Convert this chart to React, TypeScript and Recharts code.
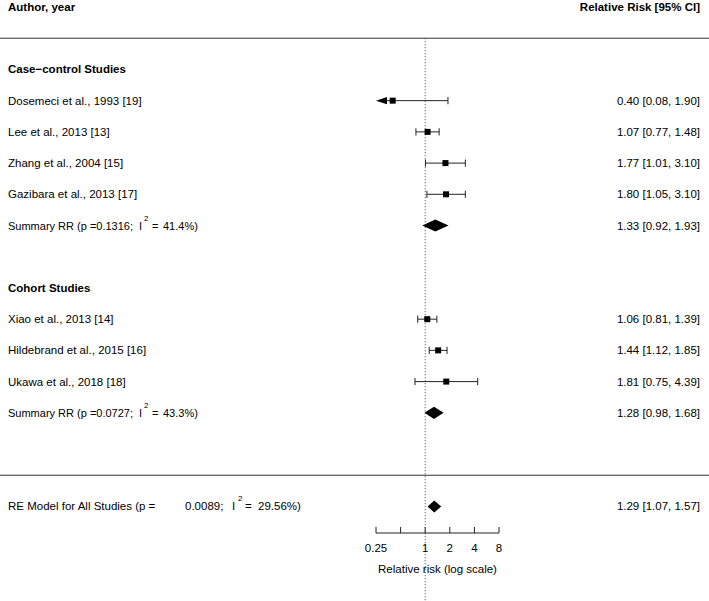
import { ComposedChart, Scatter, XAxis, YAxis, ReferenceArea, ReferenceLine } from 'recharts'

const headerLeft = 'Author, year'
const headerRight = 'Relative Risk [95% CI]'
const headerRow = 0

const groupNames = ['Case−control Studies', 'Cohort Studies']
const groupRows = [2, 9]

const studyNames = [
	'Dosemeci et al., 1993 [19]',
	'Lee et al., 2013 [13]',
	'Zhang et al., 2004 [15]',
	'Gazibara et al., 2013 [17]',
	'Xiao et al., 2013 [14]',
	'Hildebrand et al., 2015 [16]',
	'Ukawa et al., 2018 [18]',
]
const studyRR = [0.4, 1.07, 1.77, 1.8, 1.06, 1.44, 1.81]
const studyLower = [0.08, 0.77, 1.01, 1.05, 0.81, 1.12, 0.75]
const studyUpper = [1.9, 1.48, 3.1, 3.1, 1.39, 1.85, 4.39]
const studyRows = [3, 4, 5, 6, 10, 11, 12]

const summaryPValues = ['0.1316', '0.0727', '0.0089']
const summaryI2 = ['41.4%', '43.3%', '29.56%']
const summaryRR = [1.33, 1.28, 1.29]
const summaryLower = [0.92, 0.98, 1.07]
const summaryUpper = [1.93, 1.68, 1.57]
const summaryRows = [7, 13, 16]

const dividerRows = [1, 15]
const axisTicks = [0.25, 0.5, 1, 2, 4, 8]
const axisLabeledTicks = [0.25, 1, 2, 4, 8]
const xDomain = [0.25, 8]
const yDomain = [0, 16.85]
const bottomRow = 19.2

const W = 709
const H = 601
const FONT = '"Liberation Sans", Arial, Helvetica, sans-serif'
const FS = 11.5
const FS_SUM = 11

const fmt = (v: number) => v.toFixed(2)

const studyData = studyRR.map((rr, i) => ({ rr, row: studyRows[i] }))

const rightText: Record<number, string> = {}
studyRows.forEach((r, i) => {
	rightText[r] = `${fmt(studyRR[i])} [${fmt(studyLower[i])}, ${fmt(studyUpper[i])}]`
})
summaryRows.forEach((r, i) => {
	rightText[r] = `${fmt(summaryRR[i])} [${fmt(summaryLower[i])}, ${fmt(summaryUpper[i])}]`
})

const labelRows = [headerRow, ...groupRows, ...studyRows, ...summaryRows].sort((a, b) => a - b)

const SummaryLabel = ({ y, index }: { y: number; index: number }) => {
	const base = y + 4
	const overall = index === summaryRows.length - 1
	if (overall) {
		return (
			<text y={base} fontSize={FS} fontFamily={FONT} fill='#000'>
				<tspan x={8}>RE Model for All Studies (p =</tspan>
				<tspan x={185}>{summaryPValues[index]};</tspan>
				<tspan x={232}>I</tspan>
				<tspan x={238} y={base - 9} fontSize={8}>2</tspan>
				<tspan x={245} y={base}>=</tspan>
				<tspan x={258}>{summaryI2[index]})</tspan>
			</text>
		)
	}
	return (
		<text y={base} fontSize={FS_SUM} fontFamily={FONT} fill='#000'>
			<tspan x={8}>Summary RR (p ={summaryPValues[index]};</tspan>
			<tspan x={139}>I</tspan>
			<tspan x={144} y={base - 9} fontSize={8}>2</tspan>
			<tspan x={152} y={base}>=</tspan>
			<tspan x={163}>{summaryI2[index]})</tspan>
		</text>
	)
}

const LeftTick = (props: any) => {
	const { y, payload } = props
	const row = payload.value
	if (row === headerRow) {
		return (
			<text x={8} y={y + 4} fontSize={FS} fontWeight='bold' fontFamily={FONT} fill='#000'>
				{headerLeft}
			</text>
		)
	}
	const g = groupRows.indexOf(row)
	if (g >= 0) {
		return (
			<text x={8} y={y + 4} fontSize={FS} fontWeight='bold' fontFamily={FONT} fill='#000'>
				{groupNames[g]}
			</text>
		)
	}
	const s = studyRows.indexOf(row)
	if (s >= 0) {
		return (
			<text x={8} y={y + 4} fontSize={FS} fontFamily={FONT} fill='#000'>
				{studyNames[s]}
			</text>
		)
	}
	const m = summaryRows.indexOf(row)
	if (m >= 0) return <SummaryLabel y={y} index={m} />
	return <g />
}

const RightTick = (props: any) => {
	const { y, payload } = props
	const row = payload.value
	if (row === headerRow) {
		return (
			<text x={700} y={y + 4} textAnchor='end' fontSize={FS} fontWeight='bold' fontFamily={FONT} fill='#000'>
				{headerRight}
			</text>
		)
	}
	const txt = rightText[row]
	if (!txt) return <g />
	return (
		<text x={700} y={y + 4} textAnchor='end' fontSize={FS} fontFamily={FONT} fill='#000'>
			{txt}
		</text>
	)
}

const AxisTick = (props: any) => {
	const { x, y, payload } = props
	const v = payload.value
	return (
		<g>
			<line x1={x} x2={x} y1={y - 6} y2={y} stroke='#222' strokeWidth={1} />
			{axisLabeledTicks.includes(v) && (
				<text x={x} y={y + 19} textAnchor='middle' fontSize={FS} fontFamily={FONT} fill='#000'>
					{v}
				</text>
			)}
		</g>
	)
}

const Whisker = (p: any) => {
	const { x, y, width, height, clipped } = p
	const cy = y + height / 2
	const x2 = x + width
	return (
		<g>
			<line x1={clipped ? x + 10 : x} x2={x2} y1={cy} y2={cy} stroke='#222' strokeWidth={1} />
			{clipped ? (
				<polygon points={`${x},${cy} ${x + 11},${y} ${x + 11},${y + height}`} fill='#000' />
			) : (
				<line x1={x} x2={x} y1={y} y2={y + height} stroke='#222' strokeWidth={1} />
			)}
			<line x1={x2} x2={x2} y1={y} y2={y + height} stroke='#222' strokeWidth={1} />
		</g>
	)
}

const Diamond = (p: any) => {
	const { x, y, width, height, frac } = p
	const cy = y + height / 2
	const mx = x + frac * width
	return <polygon points={`${x},${cy} ${mx},${y} ${x + width},${cy} ${mx},${y + height}`} fill='#000' />
}

const Square = (p: any) => {
	const { cx, cy } = p
	return <rect x={cx - 3} y={cy - 3} width={6} height={6} fill='#000' />
}

const FullLine = (p: any) => <line x1={0} x2={W} y1={p.y1} y2={p.y1} stroke='#333' strokeWidth={1} />

export default function App() {
	return (
		<div style={{ position: 'absolute', left: 0, top: 0, width: W, height: H, background: '#fff' }}>
			<ComposedChart width={W} height={H} data={studyData} margin={{ top: 7, right: 0, bottom: 0, left: 0 }}>
				<XAxis
					dataKey='rr'
					type='number'
					scale='log'
					domain={xDomain}
					allowDataOverflow
					ticks={axisTicks}
					interval={0}
					height={68}
					tickSize={0}
					tickMargin={0}
					tickLine={false}
					axisLine={{ stroke: '#222' }}
					tick={<AxisTick />}
					label={{ value: 'Relative risk (log scale)', position: 'insideTop', offset: 32, fontSize: FS, fontFamily: FONT, fill: '#000' }}
				/>
				<YAxis
					yAxisId='left'
					dataKey='row'
					type='number'
					domain={yDomain}
					allowDataOverflow
					reversed
					width={376}
					ticks={labelRows}
					interval={0}
					tickLine={false}
					axisLine={false}
					tick={<LeftTick />}
				/>
				<YAxis
					yAxisId='right'
					orientation='right'
					type='number'
					domain={yDomain}
					allowDataOverflow
					reversed
					width={210}
					ticks={labelRows}
					interval={0}
					tickLine={false}
					axisLine={false}
					tick={<RightTick />}
				/>
				{dividerRows.map((r) => (
					<ReferenceLine key={`d${r}`} yAxisId='left' y={r} ifOverflow='visible' shape={FullLine} />
				))}
				<ReferenceLine
					yAxisId='left'
					segment={[
						{ x: 1, y: dividerRows[0] },
						{ x: 1, y: bottomRow },
					]}
					ifOverflow='visible'
					stroke='#444'
					strokeDasharray='1 2'
				/>
				{studyRows.map((r, i) => {
					const clipped = studyLower[i] < xDomain[0]
					return (
						<ReferenceArea
							key={`w${r}`}
							yAxisId='left'
							x1={clipped ? xDomain[0] : studyLower[i]}
							x2={studyUpper[i]}
							y1={r - 0.115}
							y2={r + 0.115}
							ifOverflow='visible'
							shape={(p: any) => <Whisker {...p} clipped={clipped} />}
						/>
					)
				})}
				{summaryRows.map((r, i) => {
					const frac =
						(Math.log(summaryRR[i]) - Math.log(summaryLower[i])) /
						(Math.log(summaryUpper[i]) - Math.log(summaryLower[i]))
					return (
						<ReferenceArea
							key={`s${r}`}
							yAxisId='left'
							x1={summaryLower[i]}
							x2={summaryUpper[i]}
							y1={r - 0.195}
							y2={r + 0.195}
							ifOverflow='visible'
							shape={(p: any) => <Diamond {...p} frac={frac} />}
						/>
					)
				})}
				<Scatter yAxisId='left' dataKey='row' shape={<Square />} isAnimationActive={false} />
			</ComposedChart>
		</div>
	)
}
